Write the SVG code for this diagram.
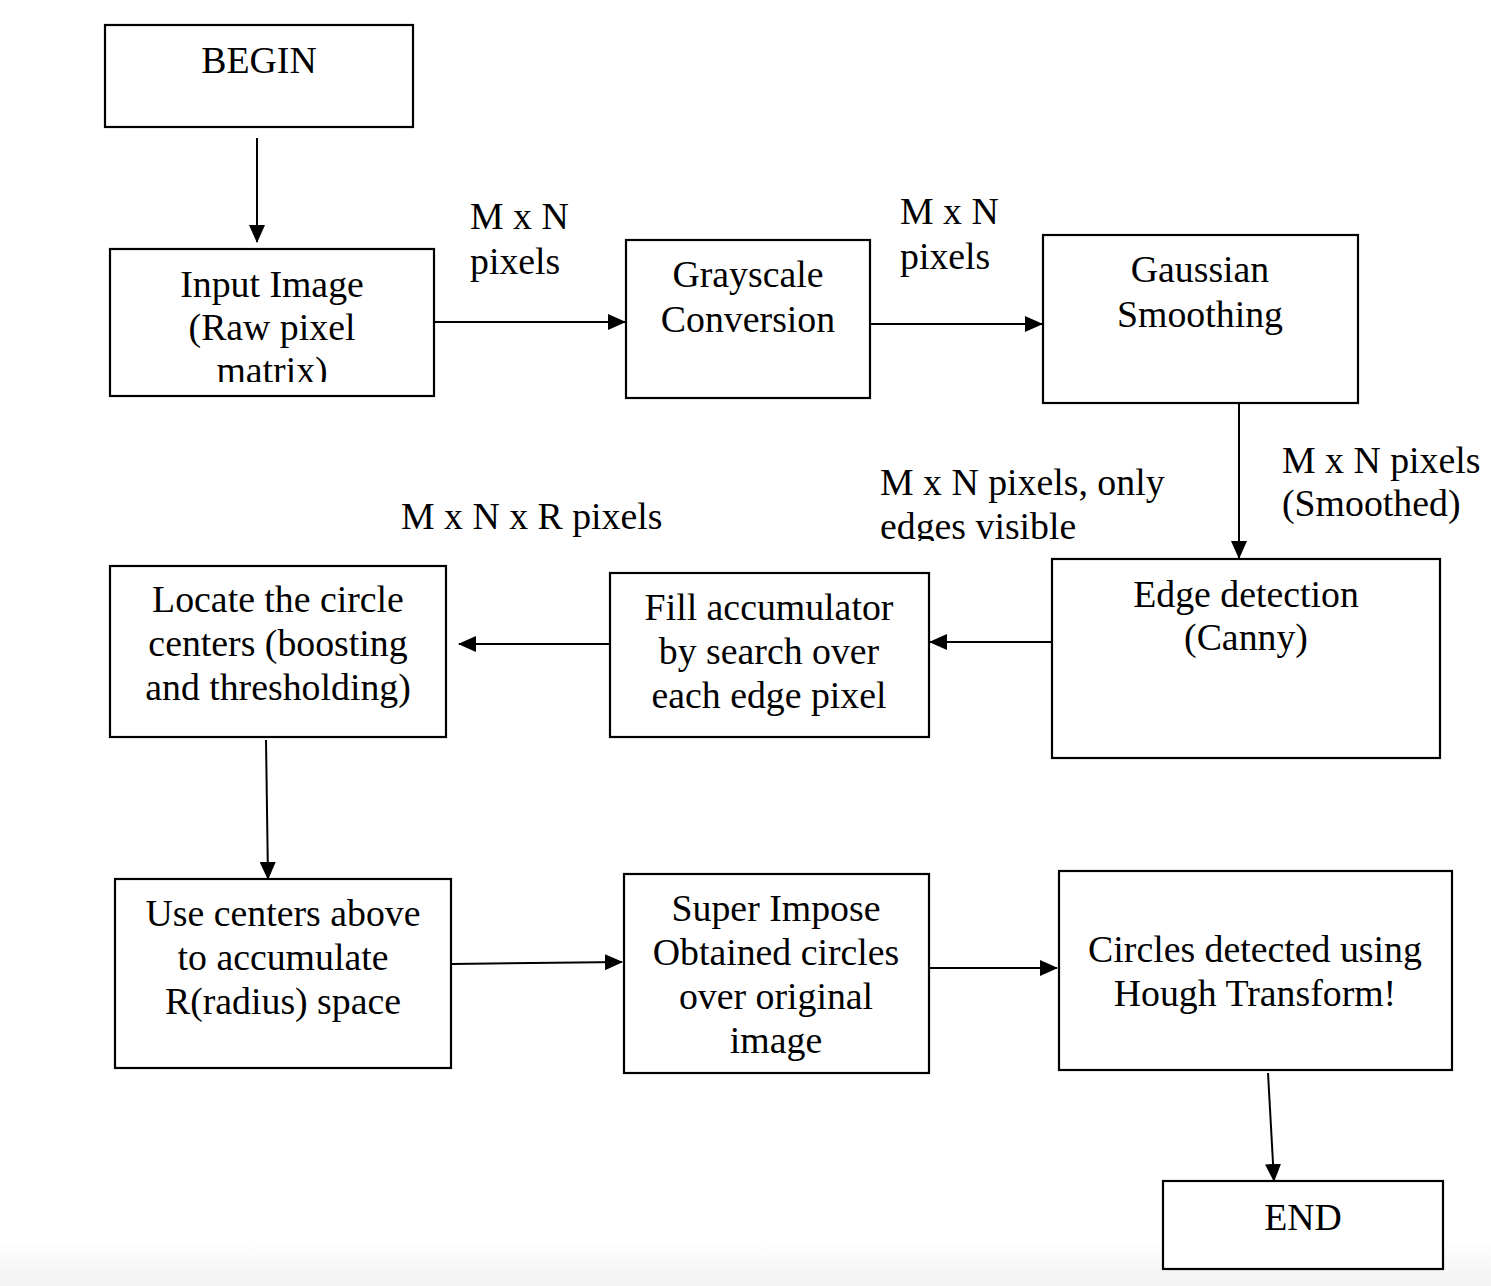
<svg xmlns="http://www.w3.org/2000/svg" width="1491" height="1286" viewBox="0 0 1491 1286">
<style>
.box{fill:#fff;stroke:#000;stroke-width:2.2}
.t{font-family:"Liberation Serif","Times New Roman",serif;font-size:37.8px;fill:#000}
.c{text-anchor:middle}
.ln{stroke:#000;stroke-width:2;fill:none;marker-end:url(#ah)}
</style>
<defs>
<marker id="ah" markerWidth="18" markerHeight="16" refX="17" refY="8" orient="auto" markerUnits="userSpaceOnUse">
<path d="M0,0 L18,8 L0,16 Z" fill="#000"/>
</marker>
<linearGradient id="bg" x1="0" y1="0" x2="0" y2="1">
<stop offset="0" stop-color="#fff"/>
<stop offset="1" stop-color="#f2f2f2"/>
</linearGradient>
<clipPath id="clipInput"><rect x="100" y="240" width="350" height="142"/></clipPath>
<clipPath id="clipEdges"><rect x="860" y="440" width="340" height="101"/></clipPath>
</defs>
<rect x="0" y="0" width="1491" height="1286" fill="#fff"/>
<rect x="0" y="1240" width="1491" height="46" fill="url(#bg)"/>

<g id="connectors">
<line class="ln" x1="257" y1="138" x2="257" y2="242"/>
<line class="ln" x1="435" y1="322" x2="625" y2="322"/>
<line class="ln" x1="871" y1="324" x2="1042" y2="324"/>
<line class="ln" x1="1239" y1="404" x2="1239" y2="558"/>
<line class="ln" x1="1052" y1="642" x2="930" y2="642"/>
<line class="ln" x1="609" y1="644" x2="459" y2="644"/>
<line class="ln" x1="266" y1="740" x2="268" y2="879"/>
<line class="ln" x1="452" y1="964" x2="622" y2="962"/>
<line class="ln" x1="930" y1="968" x2="1057" y2="968"/>
<line class="ln" x1="1268" y1="1073" x2="1274" y2="1181"/>
</g>

<g id="labels">
<text class="t" x="470" y="229">M x N</text>
<text class="t" x="470" y="274">pixels</text>
<text class="t" x="900" y="224">M x N</text>
<text class="t" x="900" y="269">pixels</text>
<text class="t" x="1282" y="473">M x N pixels</text>
<text class="t" x="1282" y="516">(Smoothed)</text>
<g clip-path="url(#clipEdges)">
<text class="t" x="880" y="495">M x N pixels, only</text>
<text class="t" x="880" y="539">edges visible</text>
</g>
<text class="t" x="401" y="529">M x N x R pixels</text>
</g>

<g id="begin">
<rect class="box" x="105" y="25" width="308" height="102"/>
<text class="t c" x="259" y="73">BEGIN</text>
</g>
<g id="input">
<rect class="box" x="110" y="249" width="324" height="147"/>
<g clip-path="url(#clipInput)">
<text class="t c" x="272" y="297">Input Image</text>
<text class="t c" x="272" y="340">(Raw pixel</text>
<text class="t c" x="272" y="383">matrix)</text>
</g>
</g>
<g id="grayscale">
<rect class="box" x="626" y="240" width="244" height="158"/>
<text class="t c" x="748" y="287">Grayscale</text>
<text class="t c" x="748" y="332">Conversion</text>
</g>
<g id="gaussian">
<rect class="box" x="1043" y="235" width="315" height="168"/>
<text class="t c" x="1200" y="282">Gaussian</text>
<text class="t c" x="1200" y="327">Smoothing</text>
</g>
<g id="edge">
<rect class="box" x="1052" y="559" width="388" height="199"/>
<text class="t c" x="1246" y="607">Edge detection</text>
<text class="t c" x="1246" y="650">(Canny)</text>
</g>
<g id="fill">
<rect class="box" x="610" y="573" width="319" height="164"/>
<text class="t c" x="769" y="620">Fill accumulator</text>
<text class="t c" x="769" y="664">by search over</text>
<text class="t c" x="769" y="708">each edge pixel</text>
</g>
<g id="locate">
<rect class="box" x="110" y="566" width="336" height="171"/>
<text class="t c" x="278" y="612">Locate the circle</text>
<text class="t c" x="278" y="656">centers (boosting</text>
<text class="t c" x="278" y="700">and thresholding)</text>
</g>
<g id="usecenters">
<rect class="box" x="115" y="879" width="336" height="189"/>
<text class="t c" x="283" y="926">Use centers above</text>
<text class="t c" x="283" y="970">to accumulate</text>
<text class="t c" x="283" y="1014">R(radius) space</text>
</g>
<g id="superimpose">
<rect class="box" x="624" y="874" width="305" height="199"/>
<text class="t c" x="776" y="921">Super Impose</text>
<text class="t c" x="776" y="965">Obtained circles</text>
<text class="t c" x="776" y="1009">over original</text>
<text class="t c" x="776" y="1053">image</text>
</g>
<g id="circles">
<rect class="box" x="1059" y="871" width="393" height="199"/>
<text class="t c" x="1255" y="962">Circles detected using</text>
<text class="t c" x="1255" y="1006">Hough Transform!</text>
</g>
<g id="end">
<rect class="box" x="1163" y="1181" width="280" height="88"/>
<text class="t c" x="1303" y="1230">END</text>
</g>
</svg>
